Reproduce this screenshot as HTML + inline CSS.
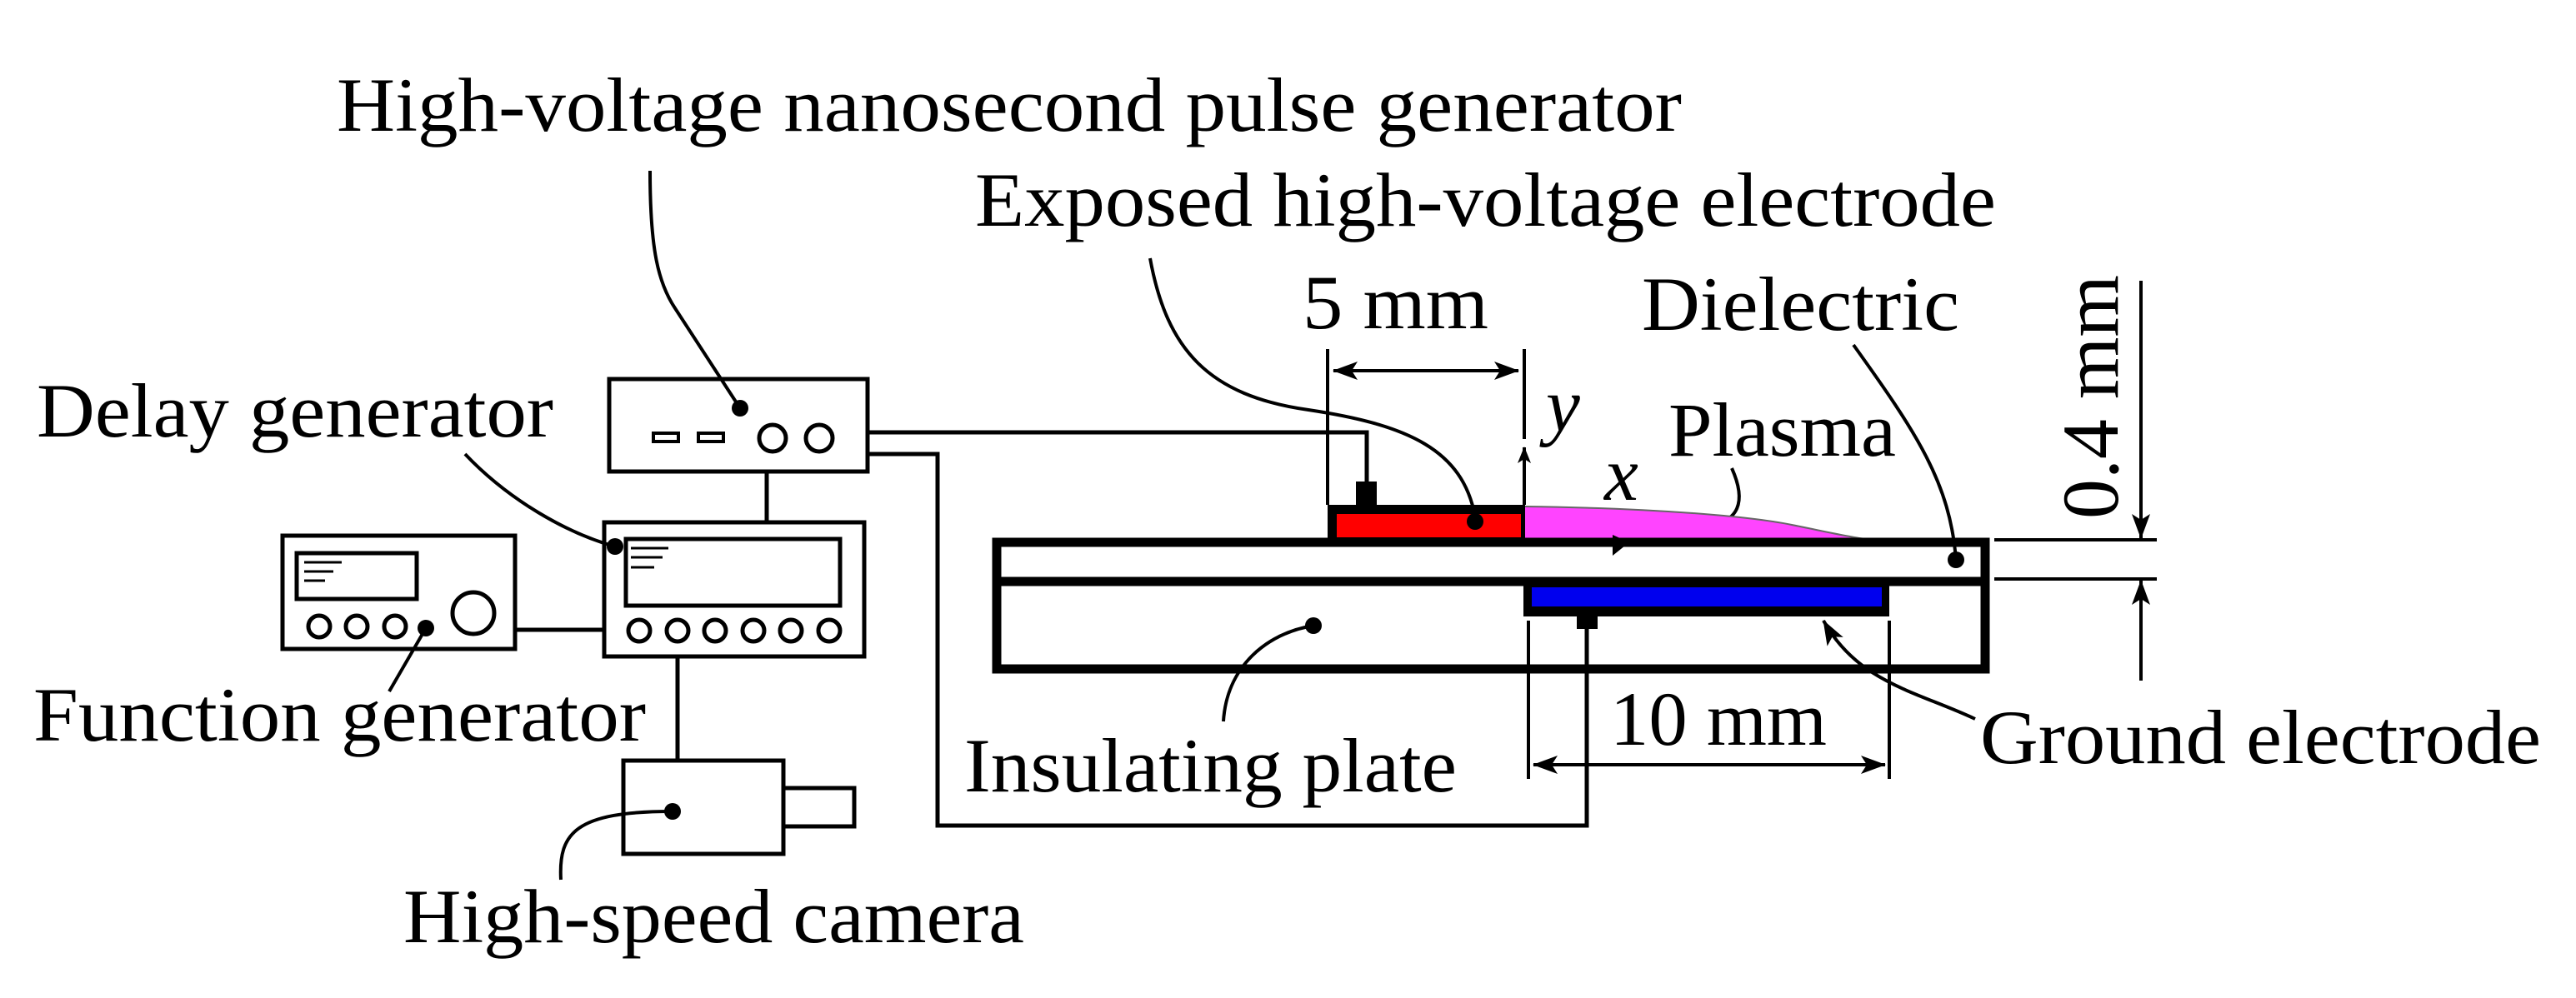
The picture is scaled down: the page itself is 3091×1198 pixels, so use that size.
<!DOCTYPE html>
<html><head><meta charset="utf-8"><style>
html,body{margin:0;padding:0;background:#fff;}
svg{display:block;}
text{font-family:"Liberation Serif","Times New Roman",Times,serif;fill:#000;}
</style></head><body>
<svg width="3091" height="1198" viewBox="0 0 3091 1198" xmlns="http://www.w3.org/2000/svg">
<defs>
<marker id="ah" viewBox="0 0 20 20" refX="19" refY="10" markerWidth="20" markerHeight="20" markerUnits="userSpaceOnUse" orient="auto">
<path d="M0,2 L20,10 L0,18 L5,10 Z" fill="#000"/></marker>
<marker id="ah2" viewBox="0 0 30 24" refX="29" refY="12" markerWidth="30" markerHeight="24" markerUnits="userSpaceOnUse" orient="auto">
<path d="M0,1 L30,12 L0,23 L7,12 Z" fill="#000"/></marker>
</defs>
<g fill="none" stroke="#000" stroke-width="5">
<rect x="731" y="455" width="310" height="111"/>
<rect x="784" y="520" width="30" height="10" stroke-width="4"/>
<rect x="838" y="520" width="30" height="10" stroke-width="4"/>
<circle cx="927" cy="526" r="16"/>
<circle cx="983" cy="526" r="16"/>
<line x1="920" y1="566" x2="920" y2="627"/>
<rect x="725" y="627" width="312" height="161"/>
<rect x="751" y="647" width="257" height="80"/>
<g stroke-width="3"><line x1="757" y1="658" x2="802" y2="658"/><line x1="757" y1="669" x2="795" y2="669"/><line x1="757" y1="681" x2="785" y2="681"/></g>
<circle cx="767" cy="757" r="13"/><circle cx="813" cy="757" r="13"/><circle cx="858" cy="757" r="13"/>
<circle cx="904" cy="757" r="13"/><circle cx="949" cy="757" r="13"/><circle cx="995" cy="757" r="13"/>
<rect x="339" y="643" width="279" height="136"/>
<rect x="356" y="664" width="144" height="55"/>
<g stroke-width="3"><line x1="365" y1="675" x2="410" y2="675"/><line x1="365" y1="686" x2="400" y2="686"/><line x1="365" y1="697" x2="390" y2="697"/></g>
<circle cx="383" cy="752" r="13"/><circle cx="428" cy="752" r="13"/><circle cx="474" cy="752" r="13"/>
<circle cx="568" cy="736" r="25"/>
<line x1="618" y1="756" x2="725" y2="756"/>
<line x1="813" y1="788" x2="813" y2="913"/>
<rect x="748" y="913" width="192" height="112"/>
<rect x="940" y="946" width="85" height="46"/>
<polyline points="1041,519 1640,519 1640,580"/>
<polyline points="1041,545 1125,545 1125,991 1904,991 1904,754"/>
<path d="M780,205 C780,300 790,340 810,370 L888,490" stroke-width="4"/>
<path d="M558,545 C610,600 680,640 738,656" stroke-width="4"/>
<path d="M467,830 L511,754" stroke-width="4"/>
<path d="M673,1056 C670,1000 690,974 807,974" stroke-width="4"/>
<path d="M1380,310 C1400,420 1450,475 1570,492 C1690,510 1755,540 1770,620" stroke-width="4"/>
<path d="M2224,414 C2300,520 2340,580 2347,672" stroke-width="4"/>
<path d="M2078,562 C2095,600 2090,630 2040,631" stroke-width="4"/>
<path d="M1468,866 C1472,800 1520,760 1576,751" stroke-width="4"/>
<path d="M2370,863 C2300,830 2230,820 2188,745" stroke-width="4" marker-end="url(#ah2)"/>
</g>
<g fill="#000">
<circle cx="888" cy="490" r="10"/><circle cx="738" cy="656" r="10"/><circle cx="511" cy="754" r="10"/>
<circle cx="807" cy="974" r="10"/><circle cx="2347" cy="672" r="10"/>
<circle cx="2040" cy="631" r="10"/><circle cx="1576" cy="751" r="10"/>
</g>
<path d="M1830,608 C1990,610 2100,620 2150,630 C2190,638 2220,645 2239,647 L1830,647 Z" fill="#ff44ff"/>
<path d="M1830,608 C1990,610 2100,620 2150,630 C2190,638 2220,645 2239,647" fill="none" stroke="#666" stroke-width="2"/>
<rect x="1593" y="606" width="237" height="41" fill="#000"/>
<rect x="1604" y="617" width="221" height="28" fill="#ff0000"/>
<rect x="1627" y="578" width="25" height="30" fill="#000"/>
<circle cx="1770" cy="626" r="10" fill="#000"/>
<g fill="none" stroke="#000" stroke-width="11">
<rect x="1196" y="651" width="1186" height="152"/>
<line x1="1196" y1="698" x2="2382" y2="698"/>
</g>
<rect x="1828" y="703" width="439" height="37" fill="#000"/>
<rect x="1838" y="705" width="420" height="23" fill="#0000ee"/>
<rect x="1892" y="740" width="25" height="15" fill="#000"/>
<g stroke="#000" stroke-width="4" fill="none">
<line x1="1829" y1="606" x2="1829" y2="537" marker-end="url(#ah)"/>
<line x1="1593" y1="419" x2="1593" y2="606"/>
<line x1="1829" y1="419" x2="1829" y2="527"/>
<line x1="1600" y1="445" x2="1822" y2="445" marker-end="url(#ah2)"/>
<line x1="1822" y1="445" x2="1600" y2="445" marker-end="url(#ah2)"/>
<line x1="1834" y1="745" x2="1834" y2="935"/>
<line x1="2267" y1="745" x2="2267" y2="935"/>
<line x1="1840" y1="918" x2="2262" y2="918" marker-end="url(#ah2)"/>
<line x1="2262" y1="918" x2="1840" y2="918" marker-end="url(#ah2)"/>
<line x1="2393" y1="648" x2="2588" y2="648"/>
<line x1="2393" y1="695" x2="2588" y2="695"/>
<line x1="2569" y1="337" x2="2569" y2="646" marker-end="url(#ah2)"/>
<line x1="2569" y1="817" x2="2569" y2="697" marker-end="url(#ah2)"/>
</g>
<path d="M1935,642 L1955,651 L1935,667 Z" fill="#000"/>
<g font-size="92" font-family="Liberation Serif, Times New Roman, serif">
<text x="404" y="157" textLength="1614" lengthAdjust="spacingAndGlyphs">High-voltage nanosecond pulse generator</text>
<text x="1170" y="271" textLength="1225" lengthAdjust="spacingAndGlyphs">Exposed high-voltage electrode</text>
<text x="44" y="524" textLength="620" lengthAdjust="spacingAndGlyphs">Delay generator</text>
<text x="40" y="889" textLength="735" lengthAdjust="spacingAndGlyphs">Function generator</text>
<text x="484" y="1131" textLength="745" lengthAdjust="spacingAndGlyphs">High-speed camera</text>
<text x="1563" y="394" textLength="223" lengthAdjust="spacingAndGlyphs">5 mm</text>
<text x="1970" y="396" textLength="381" lengthAdjust="spacingAndGlyphs">Dielectric</text>
<text x="2002" y="547" textLength="273" lengthAdjust="spacingAndGlyphs">Plasma</text>
<text x="1157" y="950" textLength="591" lengthAdjust="spacingAndGlyphs">Insulating plate</text>
<text x="1932" y="894" textLength="260" lengthAdjust="spacingAndGlyphs">10 mm</text>
<text x="2376" y="916" textLength="673" lengthAdjust="spacingAndGlyphs">Ground electrode</text>
<text x="1855" y="517" font-style="italic">y</text>
<text x="1925" y="600" font-style="italic">x</text>
<text transform="translate(2541,623) rotate(-90)" font-size="96" textLength="293" lengthAdjust="spacingAndGlyphs">0.4 mm</text>
</g>
</svg>
</body></html>
